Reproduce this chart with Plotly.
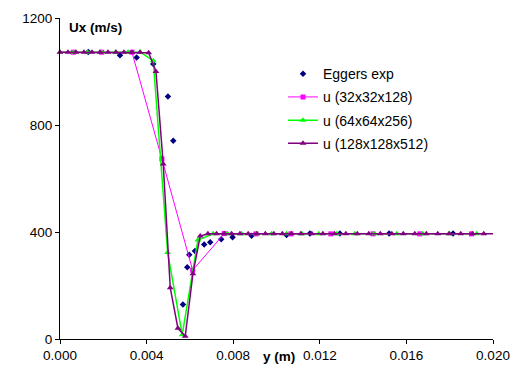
import plotly.graph_objects as go

# Eggers experimental data
exp_y = [0.001306, 0.002770, 0.003541, 0.004307, 0.004986, 0.005230, 0.005678, 0.005877,
         0.005969, 0.006232, 0.006661, 0.006938, 0.007446, 0.007972, 0.008849, 0.010465,
         0.011541, 0.012926, 0.015202, 0.018156]
exp_u = [1073, 1061, 1052, 1028, 907, 741, 129, 268,
         315, 329, 353, 362, 373, 380, 386, 389,
         394, 394, 394, 394]

# 32x32x128
c_y = [0.000614, 0.001925, 0.003324, 0.004709, 0.006126, 0.007585, 0.009048, 0.010664,
       0.012510, 0.014463, 0.016619, 0.019006]
c_u = [1072, 1072, 1072, 673, 257, 394, 393, 393,
       393, 393, 393, 393]

# 64x64x256
m_y = [0.0, 0.000623, 0.001269, 0.001916, 0.002562, 0.003139, 0.003716, 0.004307,
       0.004972, 0.005646, 0.006371, 0.007077, 0.007742, 0.008388, 0.009080, 0.009773,
       0.010465, 0.011171, 0.011956, 0.012787, 0.013618, 0.014495, 0.015557, 0.016757,
       0.017957, 0.019250]
m_u = [1072, 1072, 1072, 1072, 1072, 1072, 1072, 1040,
       323, 16, 370, 393, 393, 393, 393, 393,
       393, 393, 393, 393, 393, 393, 393, 393,
       393, 393]

# 128x128x512
f_y = [0.0, 0.000369, 0.000739, 0.001108, 0.001477, 0.001847, 0.002216, 0.002585,
       0.002954, 0.003324, 0.003693, 0.004095, 0.004432, 0.004769, 0.005092, 0.005447,
       0.005784, 0.006140, 0.006477, 0.006832, 0.007234, 0.007585, 0.007926, 0.008309,
       0.008693, 0.009094, 0.009486, 0.009879, 0.010271, 0.010687, 0.011125, 0.011633,
       0.012141, 0.012672, 0.013203, 0.013733, 0.014264, 0.014795, 0.015326, 0.015857,
       0.016388, 0.016919, 0.017450, 0.017981, 0.018511, 0.019042, 0.019573, 0.020104]
f_u = [1072, 1072, 1072, 1072, 1072, 1072, 1072, 1072,
       1072, 1072, 1072, 1070, 1000, 654, 192, 40,
       10, 244, 385, 393, 393, 393, 393, 393,
       393, 393, 393, 393, 393, 393, 393, 393,
       393, 393, 393, 393, 393, 393, 393, 393,
       393, 393, 393, 393, 393, 393, 393, 393]

x_ticks = [0.000, 0.004, 0.008, 0.012, 0.016, 0.020]
y_ticks = [0, 400, 800, 1200]

FONT = "Arial, Liberation Sans, sans-serif"

fig = go.Figure()
fig.add_trace(go.Scatter(x=exp_y, y=exp_u, mode="markers", name="Eggers exp",
                         legendgroup="a",
                         marker=dict(symbol="diamond", size=5, color="#000080"),
                         cliponaxis=False))
fig.add_trace(go.Scatter(x=c_y, y=c_u, mode="lines+markers", name="u (32x32x128)",
                         legendgroup="b",
                         line=dict(color="#FF00FF", width=1),
                         marker=dict(symbol="square", size=5, color="#FF00FF"),
                         cliponaxis=False))
fig.add_trace(go.Scatter(x=m_y, y=m_u, mode="lines+markers", name="u (64x64x256)",
                         legendgroup="c",
                         line=dict(color="#00FF00", width=1.5),
                         marker=dict(symbol="triangle-up", size=6, color="#00FF00"),
                         cliponaxis=False))
fig.add_trace(go.Scatter(x=f_y, y=f_u, mode="lines+markers", name="u (128x128x512)",
                         legendgroup="d",
                         line=dict(color="#800080", width=1.5),
                         marker=dict(symbol="triangle-up", size=6, color="#800080"),
                         cliponaxis=False))

fig.update_layout(
    width=527, height=376,
    margin=dict(l=60, r=34, t=11, b=37),
    paper_bgcolor="white", plot_bgcolor="white",
    font=dict(family=FONT, size=13.5, color="black"),
    showlegend=True,
    legend=dict(x=0.515, y=0.875, xanchor="left", yanchor="top",
                font=dict(size=14, color="black"), bgcolor="rgba(0,0,0,0)",
                borderwidth=0, tracegroupgap=2),
    xaxis=dict(range=[0, 0.020], tickvals=x_ticks, tickformat=".3f",
               showgrid=False, zeroline=False, showline=True, linecolor="black",
               linewidth=1, ticks="outside", ticklen=4, tickcolor="black",
               tickfont=dict(size=13.5)),
    yaxis=dict(range=[0, 1200], tickvals=y_ticks, showgrid=False, zeroline=False,
               showline=True, linecolor="black", linewidth=1, ticks="outside",
               ticklen=4, tickcolor="black", tickfont=dict(size=13.5)),
    annotations=[
        dict(text="<b>Ux (m/s)</b>", x=0.082, y=0.971, xref="paper", yref="paper",
             xanchor="center", yanchor="middle",
             showarrow=False, font=dict(size=13.5)),
        dict(text="<b>y (m)</b>", x=0.506, y=-0.054, xref="paper", yref="paper",
             xanchor="center", yanchor="middle",
             showarrow=False, font=dict(size=13.5)),
    ],
)

fig.write_html("out.html")
